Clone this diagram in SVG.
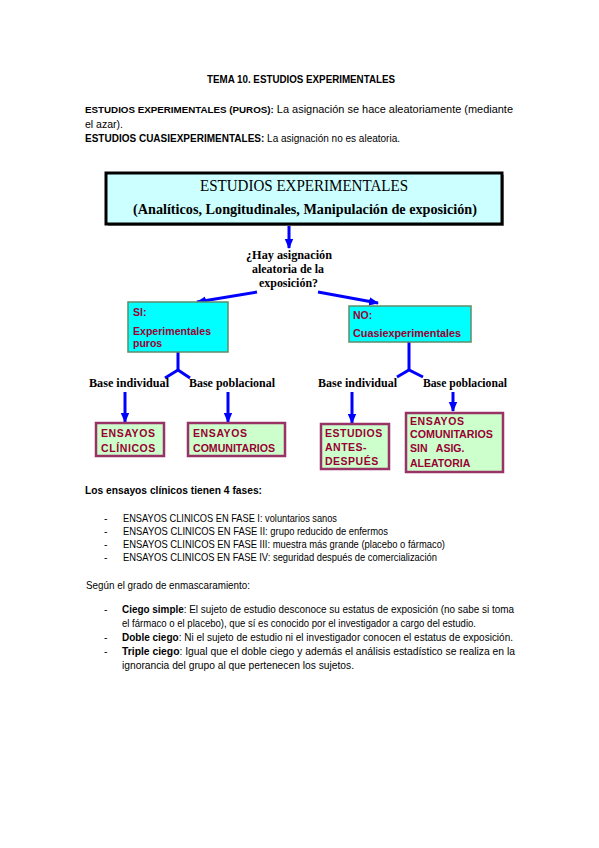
<svg xmlns="http://www.w3.org/2000/svg" width="599" height="848" viewBox="0 0 599 848">
<defs>
<marker id="ah" markerUnits="userSpaceOnUse" markerWidth="10" markerHeight="10" refX="9" refY="5" orient="auto">
<path d="M0,0.8 L10,5 L0,9.2 Z" fill="#0000ff"/>
</marker>
<style>
.body{font-family:"Liberation Sans",Arial,sans-serif;font-size:10.5px;fill:#000}
.b{font-weight:bold}
.ser{font-family:"Liberation Serif","Times New Roman",serif;fill:#000}
.box{font-family:"Liberation Sans",Arial,sans-serif;font-size:10.5px;font-weight:bold;fill:#990033}
.cyan{fill:#00ffff;stroke:#5e8c6a;stroke-width:1.5}
.green{fill:#ccffcc;stroke:#993366;stroke-width:2.5}
.arr{stroke:#0000ff;stroke-width:3;fill:none}
.ln{stroke:#0000ff;stroke-width:3;fill:none}
</style>
</defs>
<rect width="599" height="848" fill="#ffffff"/>

<g id="header">
<text class="body b" x="207" y="83" textLength="188" lengthAdjust="spacingAndGlyphs">TEMA 10. ESTUDIOS EXPERIMENTALES</text>
<text class="body" x="85" y="113" textLength="428" lengthAdjust="spacingAndGlyphs"><tspan class="b" font-size="9.4">ESTUDIOS EXPERIMENTALES (PUROS):</tspan> La asignación se hace aleatoriamente (mediante</text>
<text class="body" x="85" y="128" textLength="38" lengthAdjust="spacingAndGlyphs">el azar).</text>
<text class="body" x="85" y="142" textLength="315" lengthAdjust="spacingAndGlyphs"><tspan class="b">ESTUDIOS CUASIEXPERIMENTALES:</tspan> La asignación no es aleatoria.</text>
</g>

<g id="connectors">
<line class="arr" x1="289" y1="225" x2="289" y2="248" marker-end="url(#ah)"/>
<line class="arr" x1="257" y1="292" x2="197" y2="302" marker-end="url(#ah)"/>
<line class="arr" x1="318" y1="292" x2="378" y2="303" marker-end="url(#ah)"/>
<polyline class="ln" points="178,352 178,370"/>
<polyline class="ln" points="165,378 178,370 190,378"/>
<polyline class="ln" points="409,342 409,370"/>
<polyline class="ln" points="397,377 409,370 423,377"/>
<line class="arr" x1="125" y1="392" x2="125" y2="422" marker-end="url(#ah)"/>
<line class="arr" x1="228" y1="392" x2="228" y2="422" marker-end="url(#ah)"/>
<line class="arr" x1="352" y1="392" x2="352" y2="423" marker-end="url(#ah)"/>
<line class="arr" x1="453" y1="392" x2="453" y2="411" marker-end="url(#ah)"/>
</g>

<g id="estudios-experimentales">
<rect x="108" y="175" width="396" height="51" fill="#999999"/>
<rect x="106" y="173" width="396" height="51" fill="#ccffff" stroke="#000" stroke-width="3"/>
<text class="ser" x="200" y="191" font-size="16" textLength="208" lengthAdjust="spacingAndGlyphs">ESTUDIOS EXPERIMENTALES</text>
<text class="ser" x="133" y="214" font-size="14" font-weight="bold" textLength="344" lengthAdjust="spacingAndGlyphs">(Analíticos, Longitudinales, Manipulación de exposición)</text>
</g>

<g id="pregunta">
<text class="ser" font-size="12" font-weight="bold" x="246" y="259" textLength="86" lengthAdjust="spacingAndGlyphs">¿Hay asignación</text>
<text class="ser" font-size="12" font-weight="bold" x="252" y="273" textLength="72" lengthAdjust="spacingAndGlyphs">aleatoria de la</text>
<text class="ser" font-size="12" font-weight="bold" x="259" y="287" textLength="59" lengthAdjust="spacingAndGlyphs">exposición?</text>
</g>

<g id="si">
<rect class="cyan" x="128" y="302" width="100" height="50"/>
<text class="box" x="133" y="316">SI:</text>
<text class="box" x="133" y="335" textLength="78" lengthAdjust="spacingAndGlyphs">Experimentales</text>
<text class="box" x="133" y="347">puros</text>
</g>

<g id="no">
<rect class="cyan" x="349" y="306" width="122" height="36"/>
<text class="box" x="353" y="319">NO:</text>
<text class="box" x="353" y="337" textLength="108" lengthAdjust="spacingAndGlyphs">Cuasiexperimentales</text>
</g>

<g id="labels-base">
<text class="ser" font-size="12" font-weight="bold" x="89" y="387" textLength="80" lengthAdjust="spacingAndGlyphs">Base individual</text>
<text class="ser" font-size="12" font-weight="bold" x="189" y="387" textLength="86" lengthAdjust="spacingAndGlyphs">Base poblacional</text>
<text class="ser" font-size="12" font-weight="bold" x="318" y="387" textLength="79" lengthAdjust="spacingAndGlyphs">Base individual</text>
<text class="ser" font-size="12" font-weight="bold" x="423" y="387" textLength="84" lengthAdjust="spacingAndGlyphs">Base poblacional</text>
</g>

<g id="ensayos-clinicos">
<rect class="green" x="96" y="423" width="68" height="33"/>
<text class="box" x="101" y="437" letter-spacing="0.6">ENSAYOS</text>
<text class="box" x="101" y="452" letter-spacing="0.6">CLÍNICOS</text>
</g>

<g id="ensayos-comunitarios">
<rect class="green" x="188" y="423" width="97" height="33"/>
<text class="box" x="193" y="437" letter-spacing="0.6">ENSAYOS</text>
<text class="box" x="193" y="452" textLength="82" lengthAdjust="spacingAndGlyphs">COMUNITARIOS</text>
</g>

<g id="estudios-antes-despues">
<rect class="green" x="321" y="424" width="68" height="45"/>
<text class="box" x="325" y="437" letter-spacing="0.5">ESTUDIOS</text>
<text class="box" x="325" y="451" letter-spacing="0.5">ANTES-</text>
<text class="box" x="325" y="465" letter-spacing="0.5">DESPUÉS</text>
</g>

<g id="ensayos-comunitarios-sin-asig">
<rect class="green" x="406" y="413" width="97" height="59"/>
<text class="box" x="410" y="425" letter-spacing="0.6">ENSAYOS</text>
<text class="box" x="410" y="438" textLength="83" lengthAdjust="spacingAndGlyphs">COMUNITARIOS</text>
<text class="box" x="410" y="452" xml:space="preserve">SIN   ASIG.</text>
<text class="box" x="410" y="467">ALEATORIA</text>
</g>

<g id="fases">
<text class="body b" x="85" y="494" textLength="177" lengthAdjust="spacingAndGlyphs">Los ensayos clínicos tienen 4 fases:</text>
<text class="body" x="104" y="522">-</text>
<text class="body" x="123" y="522" textLength="214" lengthAdjust="spacingAndGlyphs">ENSAYOS CLINICOS EN FASE I: voluntarios sanos</text>
<text class="body" x="104" y="535">-</text>
<text class="body" x="123" y="535" textLength="265" lengthAdjust="spacingAndGlyphs">ENSAYOS CLINICOS EN FASE II: grupo reducido de enfermos</text>
<text class="body" x="104" y="548">-</text>
<text class="body" x="123" y="548" textLength="322" lengthAdjust="spacingAndGlyphs">ENSAYOS CLINICOS EN FASE III: muestra más grande (placebo o fármaco)</text>
<text class="body" x="104" y="561">-</text>
<text class="body" x="123" y="561" textLength="314" lengthAdjust="spacingAndGlyphs">ENSAYOS CLINICOS EN FASE IV: seguridad después de comercialización</text>
</g>

<g id="enmascaramiento">
<text class="body" x="86" y="589" textLength="164" lengthAdjust="spacingAndGlyphs">Según el grado de enmascaramiento:</text>
<text class="body" x="104" y="613">-</text>
<text class="body" x="122" y="613" textLength="392" lengthAdjust="spacingAndGlyphs"><tspan class="b">Ciego simple</tspan>: El sujeto de estudio desconoce su estatus de exposición (no sabe si toma</text>
<text class="body" x="122" y="627" textLength="354" lengthAdjust="spacingAndGlyphs">el fármaco o el placebo), que sí es conocido por el investigador a cargo del estudio.</text>
<text class="body" x="104" y="641">-</text>
<text class="body" x="122" y="641" textLength="391" lengthAdjust="spacingAndGlyphs"><tspan class="b">Doble ciego</tspan>: Ni el sujeto de estudio ni el investigador conocen el estatus de exposición.</text>
<text class="body" x="104" y="655">-</text>
<text class="body" x="122" y="655" textLength="393" lengthAdjust="spacingAndGlyphs"><tspan class="b">Triple ciego</tspan>: Igual que el doble ciego y además el análisis estadístico se realiza en la</text>
<text class="body" x="122" y="669" textLength="232" lengthAdjust="spacingAndGlyphs">ignorancia del grupo al que pertenecen los sujetos.</text>
</g>
</svg>
